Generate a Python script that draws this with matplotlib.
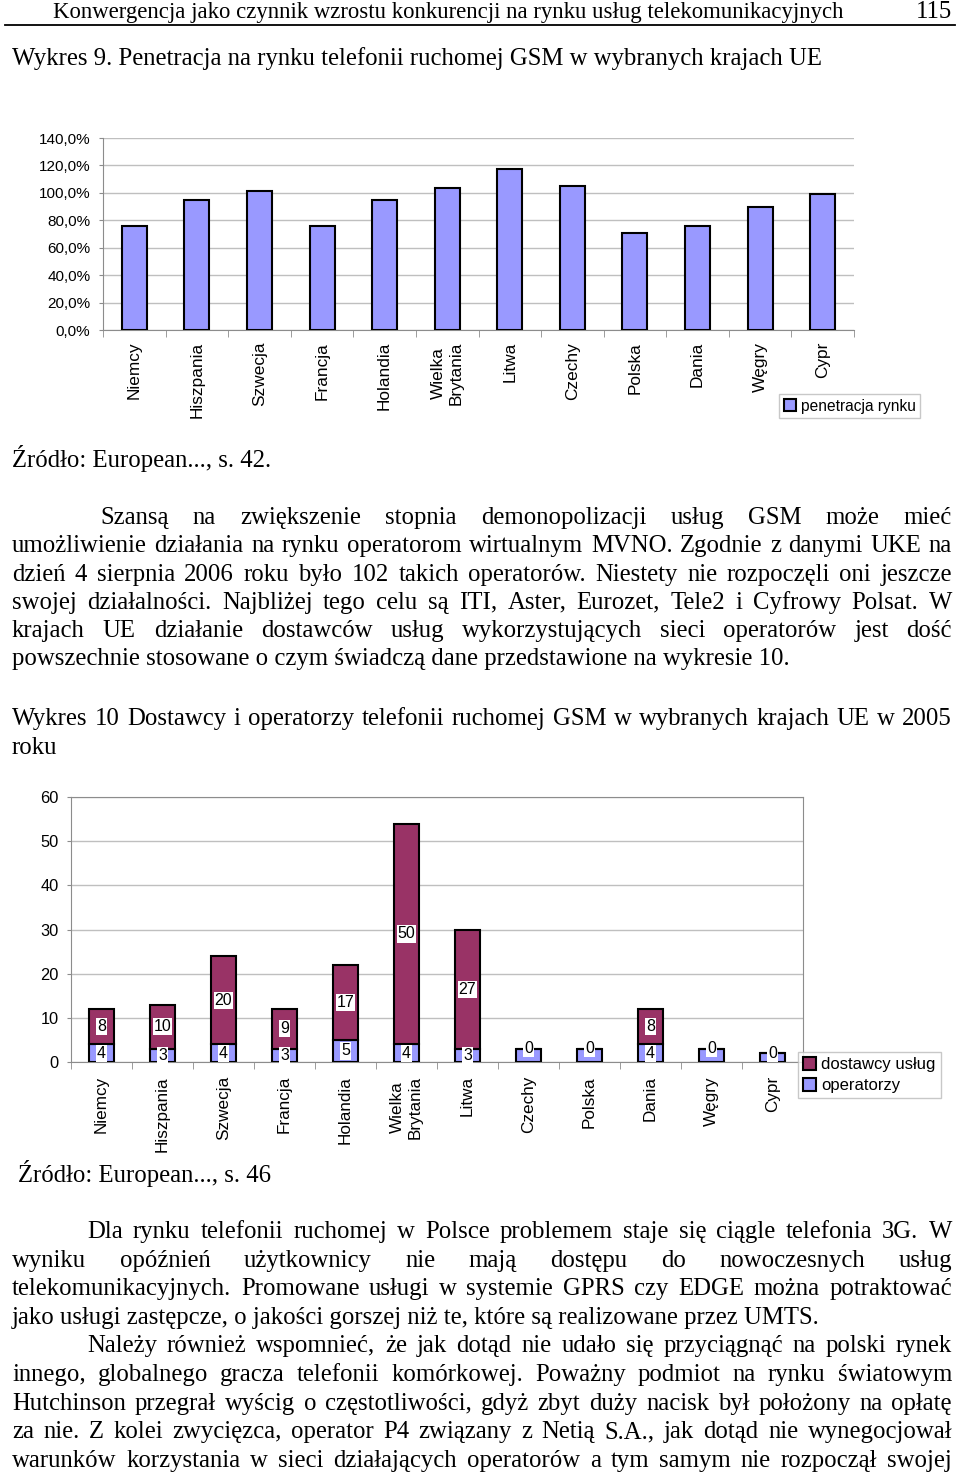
import matplotlib
matplotlib.use("Agg")
import matplotlib.pyplot as plt
import numpy as np

# ---------------- data ----------------
countries = ["Niemcy", "Hiszpania", "Szwecja", "Francja", "Holandia", "Wielka\nBrytania",
             "Litwa", "Czechy", "Polska", "Dania", "Węgry", "Cypr"]
penetration = [0.761, 0.946, 1.012, 0.761, 0.946, 1.034, 1.176, 1.051, 0.710, 0.761, 0.900, 0.990]
pct_ticks = [0.0, 0.2, 0.4, 0.6, 0.8, 1.0, 1.2, 1.4]

operatorzy = [4, 3, 4, 3, 5, 4, 3, 3, 3, 4, 3, 2]
dostawcy = [8, 10, 20, 9, 17, 50, 27, 0, 0, 8, 0, 0]
cnt_ticks = [0, 10, 20, 30, 40, 50, 60]

header = "Konwergencja jako czynnik wzrostu konkurencji na rynku usług telekomunikacyjnych"
page_no = "115"
title9 = "Wykres 9. Penetracja na rynku telefonii ruchomej GSM w wybranych krajach UE"
source9 = "Źródło: European..., s. 42."
para1 = [
    "Szansą na zwiększenie stopnia demonopolizacji usług GSM może mieć",
    "umożliwienie działania na rynku operatorom wirtualnym MVNO. Zgodnie z danymi UKE na",
    "dzień 4 sierpnia 2006 roku było 102 takich operatorów. Niestety nie rozpoczęli oni jeszcze",
    "swojej działalności. Najbliżej tego celu są ITI, Aster, Eurozet, Tele2 i Cyfrowy Polsat. W",
    "krajach UE działanie dostawców usług wykorzystujących sieci operatorów jest dość",
    "powszechnie stosowane o czym świadczą dane przedstawione na wykresie 10.",
]
title10 = ["Wykres 10 Dostawcy i operatorzy telefonii ruchomej GSM w wybranych krajach UE w 2005",
           "roku"]
source10 = "Źródło: European..., s. 46"
para2 = [
    "Dla rynku telefonii ruchomej w Polsce problemem staje się ciągle telefonia 3G. W",
    "wyniku opóźnień użytkownicy nie mają dostępu do nowoczesnych usług",
    "telekomunikacyjnych. Promowane usługi w systemie GPRS czy EDGE można potraktować",
    "jako usługi zastępcze, o jakości gorszej niż te, które są realizowane przez UMTS.",
    "Należy również wspomnieć, że jak dotąd nie udało się przyciągnąć na polski rynek",
    "innego, globalnego gracza telefonii komórkowej. Poważny podmiot na rynku światowym",
    "Hutchinson przegrał wyścig o częstotliwości, gdyż zbyt duży nacisk był położony na opłatę",
    "za nie. Z kolei zwycięzca, operator P4 związany z Netią S.A., jak dotąd nie wynegocjował",
    "warunków korzystania w sieci działających operatorów a tym samym nie rozpoczął swojej",
]

# ---------------- figure ----------------
W, H = 960, 1474
fig = plt.figure(figsize=(W / 100, H / 100), dpi=100)
fig.patch.set_facecolor("white")
renderer = fig.canvas.get_renderer()

SERIF = ["Liberation Serif", "DejaVu Serif"]
SANS = ["Liberation Sans", "DejaVu Sans"]
plt.rcParams["font.family"] = SANS
FS = 17.8

BAR_BLUE = "#9999FF"
BAR_PLUM = "#993366"
GRID = "#BFBFBF"
AXC = "#8C8C8C"


def fx(x):
    return x / W


def fy(y):
    return 1 - y / H


def measure(s, size):
    t = fig.text(0, 0, s, fontsize=size, family=SERIF)
    w = t.get_window_extent(renderer).width
    t.remove()
    return w


def put(x, y, s, size=FS, ha="left"):
    fig.text(fx(x), fy(y), s, fontsize=size, family=SERIF, ha=ha, va="baseline")


def justified(x0, x1, y, s, size=FS):
    words = s.split(" ")
    widths = [measure(w, size) for w in words]
    gap = (x1 - x0 - sum(widths)) / max(len(words) - 1, 1)
    x = x0
    for w, wd in zip(words, widths):
        put(x, y, w, size)
        x += wd + gap


# header
hs = 10 * 792 / measure(header, 10)
put(53, 18, header, hs)
put(952, 18, page_no, hs * 1.08, ha="right")
fig.add_artist(plt.Line2D([fx(5), fx(955)], [fy(24.5), fy(24.5)], color="black", lw=1.3))

put(12, 65, title9)

# ---------------- chart 1 ----------------
ax1 = fig.add_axes([fx(103), fy(330), (854 - 103) / W, (330 - 138) / H])
x = np.arange(len(countries))
ax1.bar(x, penetration, width=0.4, color=BAR_BLUE, edgecolor="black", linewidth=1.5,
        zorder=3, label="penetracja rynku")
ax1.set_xlim(-0.5, len(countries) - 0.5)
ax1.set_ylim(0, 1.4)
ax1.set_yticks(pct_ticks)
ax1.set_yticklabels([f"{v * 100:.1f}%".replace(".", ",") for v in pct_ticks])
ax1.yaxis.grid(True, color=GRID, lw=1)
ax1.set_axisbelow(True)
for s in ["top", "right"]:
    ax1.spines[s].set_visible(False)
for s in ["left", "bottom"]:
    ax1.spines[s].set_color(AXC)
ax1.set_xticks(x)
ax1.set_xticklabels(countries, rotation=90, fontsize=12.4, ha="center", va="top",
                    multialignment="center")
ax1.set_xticks(np.arange(-0.5, len(countries), 1), minor=True)
ax1.tick_params(axis="x", which="major", length=0, pad=8.5)
ax1.tick_params(axis="x", which="minor", length=5, color=AXC, direction="out")
ax1.tick_params(axis="y", length=3, color=AXC, pad=6, labelsize=11)
ax1.legend(loc="upper left", bbox_to_anchor=(fx(779), fy(394)),
           bbox_transform=fig.transFigure, fontsize=11.2, frameon=True, fancybox=False,
           edgecolor="#BBBBBB", handlelength=0.8, handleheight=0.8, handletextpad=0.3,
           borderpad=0.3, borderaxespad=0)

put(12, 467, source9)

for k, s in enumerate(para1):
    y = 524 + 28.3 * k
    if k == len(para1) - 1:
        put(12, y, s)
    else:
        justified(100 if k == 0 else 12, 952, y, s)

justified(12, 952, 725, title10[0])
put(12, 754, title10[1])

# ---------------- chart 2 ----------------
ax2 = fig.add_axes([fx(71), fy(1062), (803 - 71) / W, (1062 - 797) / H])
b_op = ax2.bar(x, operatorzy, width=0.4, color=BAR_BLUE, edgecolor="black", linewidth=1.5,
               zorder=3, label="operatorzy")
b_do = ax2.bar(x, dostawcy, bottom=operatorzy, width=0.4, color=BAR_PLUM, edgecolor="black",
               linewidth=1.5, zorder=3, label="dostawcy usług")
for i in x:
    # operator labels are covered by the "0" provider label when providers are zero
    if dostawcy[i] > 0:
        ax2.text(i, operatorzy[i] / 2, str(operatorzy[i]), ha="center", va="center",
                 fontsize=11.5, bbox=dict(facecolor="white", edgecolor="none", pad=0.8),
                 zorder=4)
    ax2.text(i, operatorzy[i] + dostawcy[i] / 2, str(dostawcy[i]), ha="center", va="center",
             fontsize=11.5, bbox=dict(facecolor="white", edgecolor="none", pad=0.8), zorder=5)
ax2.set_xlim(-0.5, len(countries) - 0.5)
ax2.set_ylim(0, 60)
ax2.set_yticks(cnt_ticks)
ax2.yaxis.grid(True, color=GRID, lw=1)
ax2.set_axisbelow(True)
for s in ax2.spines.values():
    s.set_color(AXC)
ax2.set_xticks(x)
ax2.set_xticklabels(countries, rotation=90, fontsize=12.3, ha="center", va="top",
                    multialignment="center")
ax2.set_xticks(np.arange(-0.5, len(countries), 1), minor=True)
ax2.tick_params(axis="x", which="major", length=0, pad=10)
ax2.tick_params(axis="x", which="minor", length=5, color=AXC, direction="out")
ax2.tick_params(axis="y", length=3, color=AXC, pad=6, labelsize=11.8)
ax2.legend(handles=[b_do, b_op], loc="upper left", bbox_to_anchor=(fx(798), fy(1052)),
           bbox_transform=fig.transFigure, fontsize=12, frameon=True, fancybox=False,
           edgecolor="#BBBBBB", handlelength=0.8, handleheight=0.8, handletextpad=0.3,
           borderpad=0.3, borderaxespad=0, labelspacing=0.35)

put(18, 1182, source10)

for k, s in enumerate(para2):
    y = 1238 + 28.6 * k
    if k == 3:
        put(12, y, s)
    else:
        justified(87 if k in (0, 4) else 12, 952, y, s)

fig.savefig("out.png", dpi=100)
